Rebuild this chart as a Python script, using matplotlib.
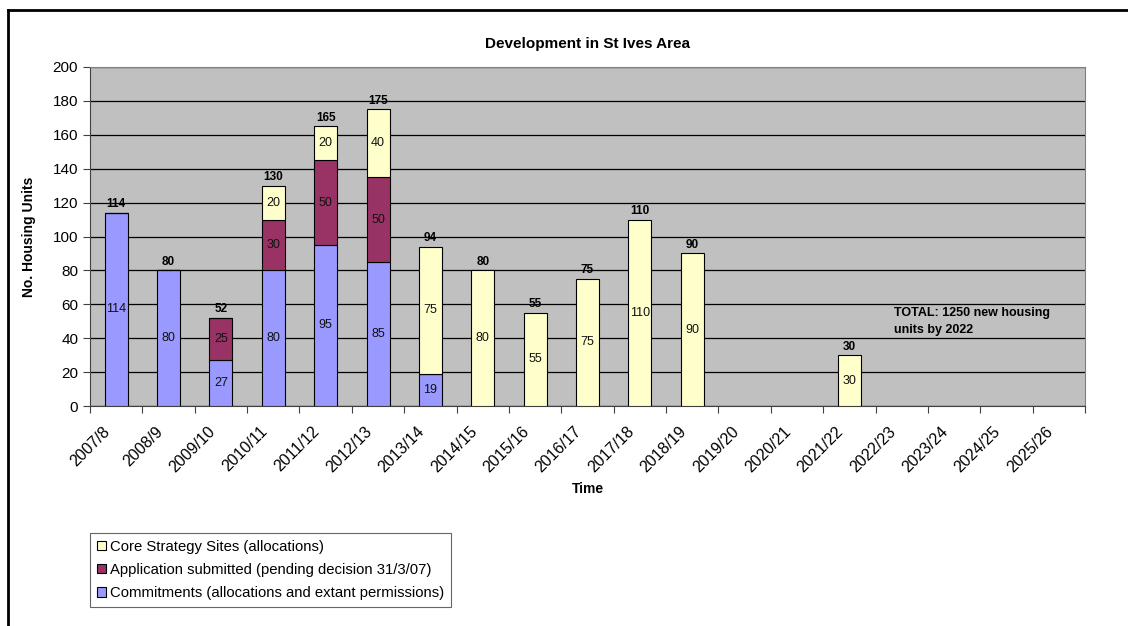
import numpy as np
import matplotlib.pyplot as plt
from matplotlib.lines import Line2D

plt.rcParams['font.family'] = ['Liberation Sans', 'DejaVu Sans']

years = ['2007/8', '2008/9', '2009/10', '2010/11', '2011/12', '2012/13', '2013/14',
         '2014/15', '2015/16', '2016/17', '2017/18', '2018/19', '2019/20', '2020/21',
         '2021/22', '2022/23', '2023/24', '2024/25', '2025/26']
commitments = [114, 80, 27, 80, 95, 85, 19, 0, 0, 0, 0, 0, None, None, 0, None, None, None, None]
applications = [0, 0, 25, 30, 50, 50, 0, 0, 0, 0, 0, 0, None, None, 0, None, None, None, None]
core_sites = [0, 0, 0, 20, 20, 40, 75, 80, 55, 75, 110, 90, None, None, 30, None, None, None, None]

names = ['Commitments (allocations and extant permissions)',
         'Application submitted (pending decision 31/3/07)',
         'Core Strategy Sites (allocations)']
colors = ['#9999FF', '#993366', '#FFFFCC']

fig = plt.figure(figsize=(11.28, 6.26), dpi=100)
ax = fig.add_axes([90 / 1128, 1 - 406 / 626, 995 / 1128, 339 / 626])
ax.set_facecolor('#C0C0C0')

x = np.arange(len(years))
series = [commitments, applications, core_sites]
bottom = np.zeros(len(years))
handles = []
for vals, name, col in zip(series, names, colors):
    has = np.array([v is not None for v in vals])
    v = np.array([0 if val is None else val for val in vals], dtype=float)
    b = ax.bar(x[has], v[has], 0.44, bottom=bottom[has], color=col,
               edgecolor='black', linewidth=0.8, zorder=3, label=name)
    handles.append(b)
    for xi, vi, bi in zip(x[has], v[has], bottom[has]):
        if vi > 0:
            ax.text(xi, bi + vi / 2, '%d' % vi, ha='center', va='center',
                    fontsize=9, color='#111111', zorder=4)
    bottom = bottom + v

# totals on top of each bar
for xi, tot in zip(x, bottom):
    if tot > 0:
        ax.text(xi, tot + 1.5, '%d' % tot, ha='center', va='bottom',
                fontsize=8.5, fontweight='bold', zorder=4)

ax.text(14.86, 58.5, 'TOTAL: 1250 new housing\nunits by 2022', ha='left', va='top',
        fontsize=9, fontweight='bold', linespacing=1.6, zorder=4)

ax.set_xlim(-0.5, len(years) - 0.5)
ax.set_ylim(0, 200)
ax.set_yticks(np.arange(0, 201, 20))
ax.yaxis.grid(True, color='black', linewidth=0.9, zorder=1)
ax.set_axisbelow(True)
ax.set_xticks(np.arange(-0.5, len(years) - 0.4, 1))
ax.set_xticklabels([])
# year labels sit a little left of each bar, as in the spreadsheet chart
ax.set_xticks(x - 0.26, minor=True)
ax.set_xticklabels(years, minor=True, rotation=45, ha='right', fontsize=11.5,
                   rotation_mode='anchor')
ax.tick_params(axis='x', which='minor', length=0, pad=13)
ax.tick_params(axis='x', which='major', length=5, width=0.8, color='#404040')
ax.tick_params(axis='y', length=5, width=0.8, labelsize=11, color='#404040')
for s in ['top', 'right']:
    ax.spines[s].set_color('#808080')
for s in ['left', 'bottom']:
    ax.spines[s].set_color('#404040')

ax.set_title('Development in St Ives Area', fontsize=11, fontweight='bold', pad=14)
ax.set_ylabel('No. Housing Units', fontsize=10, fontweight='bold', labelpad=12)
ax.set_xlabel('Time', fontsize=10, fontweight='bold', labelpad=5)

leg = fig.legend(handles[::-1], names[::-1], loc='upper left',
                 bbox_to_anchor=(90 / 1128, 1 - 533 / 626), fontsize=10.75,
                 frameon=True, fancybox=False, edgecolor='#404040',
                 handlelength=0.6, handleheight=0.6, handletextpad=0.3,
                 labelspacing=0.62, borderpad=0.45, borderaxespad=0)
leg.get_frame().set_linewidth(0.8)

# outer frame
fig.add_artist(Line2D([8 / 1128, 8 / 1128], [0, 1 - 10 / 626], color='black', linewidth=2))
fig.add_artist(Line2D([8 / 1128, 1], [1 - 10 / 626, 1 - 10 / 626], color='black', linewidth=2))

fig.savefig('out.png', dpi=100)
